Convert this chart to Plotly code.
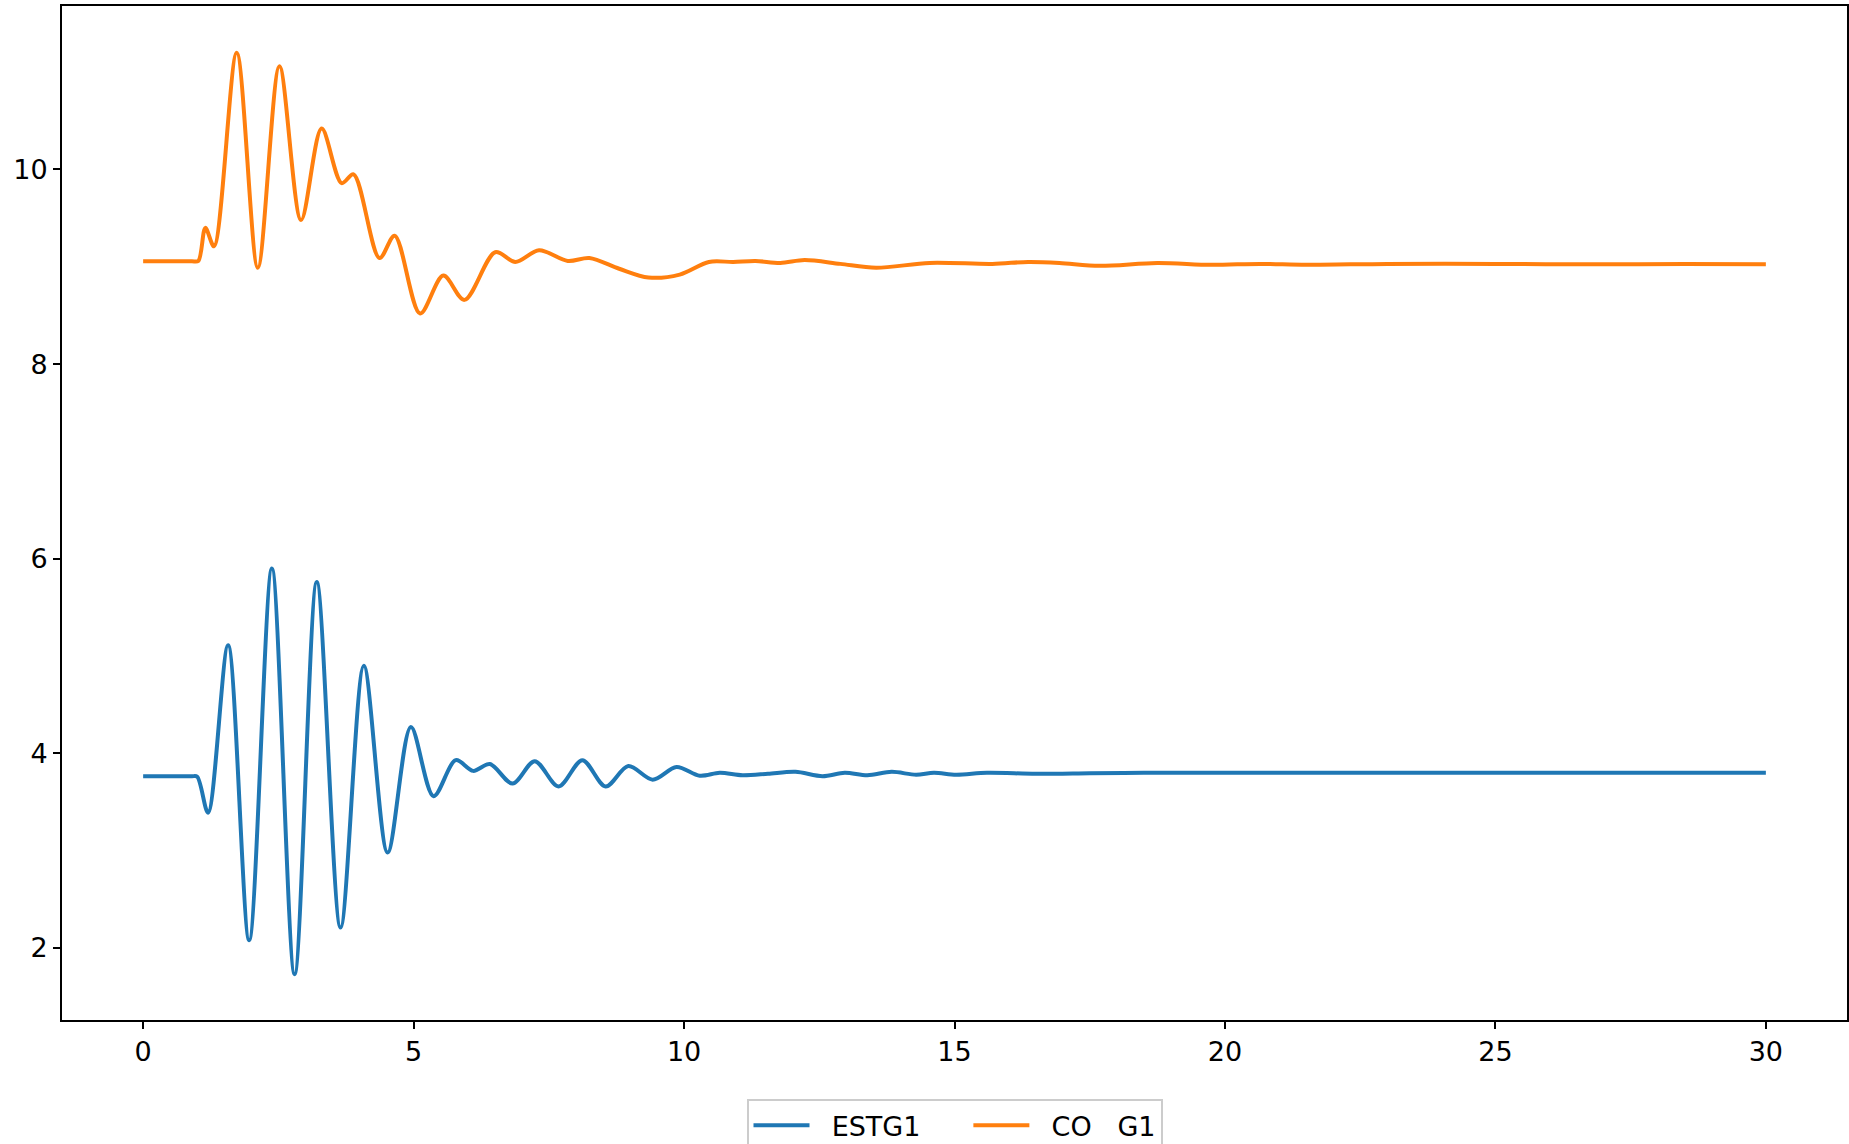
import plotly.graph_objects as go

# ESTG1 (blue) key points
estg1_t = [0, 0.5, 0.9, 1.0, 1.2, 1.57, 1.96, 2.38, 2.80, 3.21, 3.65, 4.08, 4.52, 4.95,
           5.37, 5.78, 6.10, 6.41, 6.83, 7.24, 7.68, 8.12, 8.55, 8.97, 9.42, 9.86, 10.29,
           10.66, 11.08, 11.55, 12.06, 12.56, 12.97, 13.39, 13.84, 14.29, 14.62, 15.03,
           15.6, 16.5, 17.5, 18.5, 20, 22, 24, 26, 28, 30]
estg1_v = [3.765, 3.765, 3.765, 3.76, 3.39, 5.11, 2.08, 5.90, 1.73, 5.76, 2.21, 4.90, 2.98, 4.27,
           3.56, 3.93, 3.82, 3.89, 3.69, 3.92, 3.66, 3.93, 3.66, 3.87, 3.73, 3.86, 3.77,
           3.80, 3.775, 3.79, 3.81, 3.765, 3.80, 3.775, 3.81, 3.78, 3.80, 3.78,
           3.80, 3.79, 3.795, 3.80, 3.80, 3.80, 3.80, 3.80, 3.80, 3.80]

# CO G1 (orange) key points
cog1_t = [0, 0.5, 0.9, 1.02, 1.15, 1.31, 1.73, 2.12, 2.52, 2.92, 3.30, 3.67, 3.89, 4.37,
          4.65, 5.12, 5.55, 5.94, 6.51, 6.88, 7.32, 7.85, 8.25, 8.8, 9.34, 9.92, 10.46,
          10.91, 11.32, 11.78, 12.23, 12.89, 13.55, 14.54, 15.70, 16.36, 16.94, 17.68,
          18.75, 19.74, 20.65, 21.5, 23, 25, 27, 28.5, 30]
cog1_v = [9.057, 9.057, 9.057, 9.06, 9.40, 9.21, 11.20, 8.99, 11.06, 9.48, 10.42, 9.86, 9.95, 9.09,
          9.32, 8.52, 8.91, 8.66, 9.15, 9.05, 9.17, 9.06, 9.09, 8.98, 8.89, 8.92, 9.05,
          9.05, 9.06, 9.04, 9.07, 9.03, 8.99, 9.04, 9.03, 9.05, 9.04, 9.01,
          9.04, 9.02, 9.03, 9.02, 9.03, 9.03, 9.025, 9.03, 9.025]

NB = "\u00a0"
series_names = [NB * 2 + "ESTG1" + NB * 5, NB * 2 + "CO" + NB * 3 + "G1"]
x_ticks = [0, 5, 10, 15, 20, 25, 30]
y_ticks = [2, 4, 6, 8, 10]

fig = go.Figure()
fig.add_trace(go.Scatter(x=estg1_t, y=estg1_v, mode="lines", name=series_names[0],
                         line=dict(color="#1f77b4", width=4, shape="spline", smoothing=0.9)))
fig.add_trace(go.Scatter(x=cog1_t, y=cog1_v, mode="lines", name=series_names[1],
                         line=dict(color="#ff7f0e", width=4, shape="spline", smoothing=0.9)))

axis_common = dict(showgrid=False, zeroline=False, showline=True, linecolor="black",
                   linewidth=2, mirror=True, ticks="outside", ticklen=7, tickwidth=2,
                   tickcolor="black", tickfont=dict(family="DejaVu Sans", size=27, color="black"))

fig.update_layout(
    width=1849, height=1144,
    paper_bgcolor="white", plot_bgcolor="white",
    margin=dict(l=62, r=2, t=6, b=124, autoexpand=False),
    xaxis=dict(range=[-1.5, 31.5], tickvals=x_ticks, **axis_common),
    yaxis=dict(range=[1.26, 11.68], tickvals=y_ticks, **axis_common),
    showlegend=True,
    legend=dict(orientation="h", x=0.5, xanchor="center", y=-0.078, yanchor="top",
                bgcolor="white", bordercolor="#cccccc", borderwidth=2,
                font=dict(family="DejaVu Sans", size=27, color="black"),
                itemwidth=56),
    font=dict(family="DejaVu Sans"),
)

fig.write_html("out.html", config={"displayModeBar": False},
               post_script="document.body.style.margin='0px';")
